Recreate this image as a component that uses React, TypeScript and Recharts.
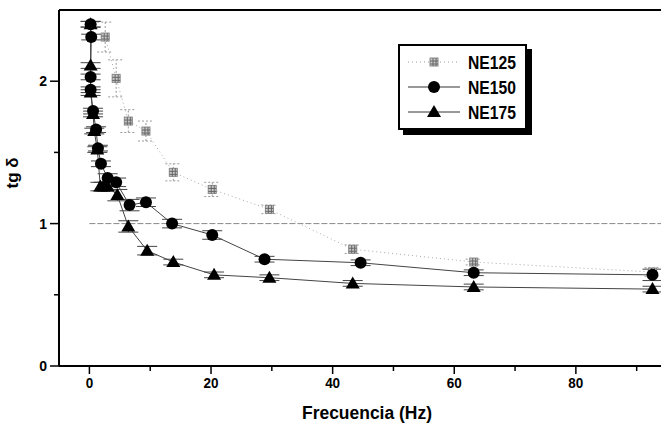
import { ComposedChart, Line, XAxis, YAxis, ReferenceLine, ErrorBar } from 'recharts';

// NE125 (grey squares, dotted)
const freq125 = [2.6, 4.4, 6.4, 9.3, 13.8, 20.2, 29.6, 43.3, 63.2, 92.6];
const tg125 = [2.31, 2.02, 1.72, 1.65, 1.36, 1.24, 1.1, 0.82, 0.73, 0.66];
const err125 = [0.105, 0.13, 0.08, 0.07, 0.06, 0.05, 0.03, 0.03, 0.02, 0.03];

// NE150 (circles)
const freq150 = [0.2, 0.3, 0.2, 0.2, 0.6, 1.1, 1.4, 1.9, 3.0, 4.4, 6.6, 9.3, 13.6, 20.2, 28.8, 44.6, 63.2, 92.6];
const tg150 = [2.4, 2.31, 2.03, 1.94, 1.79, 1.66, 1.53, 1.42, 1.32, 1.29, 1.13, 1.15, 1.0, 0.92, 0.75, 0.725, 0.655, 0.64];
const err150 = [0.02, 0.02, 0.02, 0.02, 0.02, 0.02, 0.02, 0.02, 0.03, 0.03, 0.04, 0.03, 0.03, 0.03, 0.02, 0.02, 0.02, 0.04];

// NE175 (triangles)
const freq175 = [0.2, 0.2, 0.2, 0.6, 0.8, 1.3, 1.8, 2.3, 3.0, 4.6, 6.4, 9.5, 13.8, 20.5, 29.6, 43.3, 63.2, 92.6];
const tg175 = [2.4, 2.11, 1.92, 1.77, 1.65, 1.52, 1.26, 1.26, 1.26, 1.2, 0.98, 0.81, 0.73, 0.64, 0.62, 0.58, 0.555, 0.54];
const err175 = [0.02, 0.02, 0.02, 0.02, 0.02, 0.02, 0.03, 0.03, 0.03, 0.04, 0.04, 0.03, 0.02, 0.02, 0.02, 0.02, 0.02, 0.02];

const xTicks = [0, 10, 20, 30, 40, 50, 60, 70, 80, 90];
const yTicks = [0, 0.5, 1, 1.5, 2];
const seriesNames = ['NE125', 'NE150', 'NE175'];

const data125 = freq125.map((f, i) => ({ f, v: tg125[i], e: err125[i] }));
const data150 = freq150.map((f, i) => ({ f, v: tg150[i], e: err150[i] }));
const data175 = freq175.map((f, i) => ({ f, v: tg175[i], e: err175[i] }));

const FONT = '"Liberation Sans", Arial, sans-serif';

const SquareMark = ({ cx, cy }: any) => (
  <g>
    <rect x={cx - 4} y={cy - 4} width={8} height={8} fill="#c8c8c8" stroke="#888" strokeWidth={1} />
    <path d={`M${cx - 4},${cy - 1}h8M${cx - 4},${cy + 2}h8M${cx - 1},${cy - 4}v8M${cx + 2},${cy - 4}v8`} stroke="#666" strokeWidth={1} />
  </g>
);

const CircleMark = ({ cx, cy }: any) => <circle cx={cx} cy={cy} r={6} fill="#000" />;

const TriangleMark = ({ cx, cy }: any) => (
  <path d={`M${cx},${cy - 7}L${cx + 7},${cy + 5}L${cx - 7},${cy + 5}Z`} fill="#000" />
);

const YTick = ({ x, y, payload }: any) => {
  const major = payload.value % 1 === 0;
  return (
    <g>
      <line x1={x - (major ? 9 : 5)} x2={x} y1={y} y2={y} stroke="#000" strokeWidth={1.5} />
      {major && (
        <text x={x - 12} y={y + 5} textAnchor="end" fontSize={14} fontWeight="bold" fontFamily={FONT} fill="#000">
          {payload.value}
        </text>
      )}
    </g>
  );
};

const XTick = ({ x, y, payload }: any) => {
  const major = payload.value % 20 === 0;
  const label = String(payload.value);
  return (
    <g>
      <line x1={x} x2={x} y1={y} y2={y + (major ? 8 : 5)} stroke="#000" strokeWidth={1.5} />
      {major && (
        <text
          x={x}
          y={y + 22}
          textAnchor="middle"
          fontSize={14}
          fontWeight="bold"
          fontFamily={FONT}
          fill="#000"
          textLength={label.length * 7.5}
          lengthAdjust="spacingAndGlyphs"
        >
          {label}
        </text>
      )}
    </g>
  );
};

const legendMarks = [SquareMark, CircleMark, TriangleMark];
const legendLines = [
  { stroke: '#999', dash: '1 3' },
  { stroke: '#333', dash: undefined },
  { stroke: '#333', dash: undefined },
];

export default function App() {
  return (
    <div style={{ position: 'absolute', left: 0, top: 0, width: 661, height: 430, background: '#fff', overflow: 'hidden' }}>
      <ComposedChart width={661} height={430} margin={{ top: 10, right: 0, bottom: 0, left: 0 }}>
        <XAxis
          type="number"
          dataKey="f"
          domain={[-5, 94]}
          ticks={xTicks}
          allowDataOverflow
          height={64}
          tickSize={0}
          tickMargin={0}
          tickLine={false}
          tick={<XTick />}
          axisLine={{ stroke: '#000', strokeWidth: 2 }}
        />
        <YAxis
          type="number"
          domain={[0, 2.5]}
          ticks={yTicks}
          allowDataOverflow
          width={59}
          tickSize={0}
          tickMargin={0}
          tickLine={false}
          tick={<YTick />}
          axisLine={{ stroke: '#000', strokeWidth: 2 }}
        />
        <ReferenceLine y={2.5} stroke="#000" strokeWidth={2} />
        <ReferenceLine
          segment={[{ x: 0, y: 1 }, { x: 94, y: 1 }]}
          stroke="#888"
          strokeWidth={1}
          strokeDasharray="6 2"
        />
        <Line
          data={data125}
          dataKey="v"
          name="NE125"
          stroke="#aaa"
          strokeWidth={1}
          strokeDasharray="1 3"
          dot={(p: any) => <SquareMark key={`s-${p.index}`} cx={p.cx} cy={p.cy} />}
          isAnimationActive={false}
        >
          <ErrorBar dataKey="e" direction="y" width={8} stroke="#999" strokeWidth={1} strokeDasharray="2 2" />
        </Line>
        <Line
          data={data150}
          dataKey="v"
          name="NE150"
          stroke="#444"
          strokeWidth={1}
          dot={(p: any) => <CircleMark key={`c-${p.index}`} cx={p.cx} cy={p.cy} />}
          isAnimationActive={false}
        >
          <ErrorBar dataKey="e" direction="y" width={10} stroke="#444" strokeWidth={1} />
        </Line>
        <Line
          data={data175}
          dataKey="v"
          name="NE175"
          stroke="#444"
          strokeWidth={1}
          dot={(p: any) => <TriangleMark key={`t-${p.index}`} cx={p.cx} cy={p.cy} />}
          isAnimationActive={false}
        >
          <ErrorBar dataKey="e" direction="y" width={10} stroke="#444" strokeWidth={1} />
        </Line>
        <text x={14} y={173} transform="rotate(-90 14 173)" textAnchor="middle" dominantBaseline="middle" fontSize={17} fontWeight="bold" fontFamily={FONT} fill="#000">
          tg δ
        </text>
        <text
          x={367}
          y={419}
          textAnchor="middle"
          fontSize={18}
          fontWeight="bold"
          fontFamily={FONT}
          fill="#000"
          textLength={130}
          lengthAdjust="spacingAndGlyphs"
        >
          Frecuencia (Hz)
        </text>
      </ComposedChart>
      <div
        style={{
          position: 'absolute',
          left: 398,
          top: 44,
          width: 125,
          height: 82,
          border: '2px solid #000',
          boxShadow: '5px 5px 0 #000',
          background: '#fff',
        }}
      >
        <svg width={125} height={82} style={{ display: 'block' }}>
          {seriesNames.map((name, i) => {
            const Mark = legendMarks[i];
            const cy = 16 + i * 25;
            return (
              <g key={name}>
                <line x1={8} x2={60} y1={cy} y2={cy} stroke={legendLines[i].stroke} strokeWidth={1} strokeDasharray={legendLines[i].dash} />
                <Mark cx={34} cy={cy} />
                <text
                  x={68}
                  y={cy + 7}
                  fontSize={19}
                  fontWeight="bold"
                  fontFamily={FONT}
                  fill="#000"
                  textLength={48}
                  lengthAdjust="spacingAndGlyphs"
                >
                  {name}
                </text>
              </g>
            );
          })}
        </svg>
      </div>
    </div>
  );
}
